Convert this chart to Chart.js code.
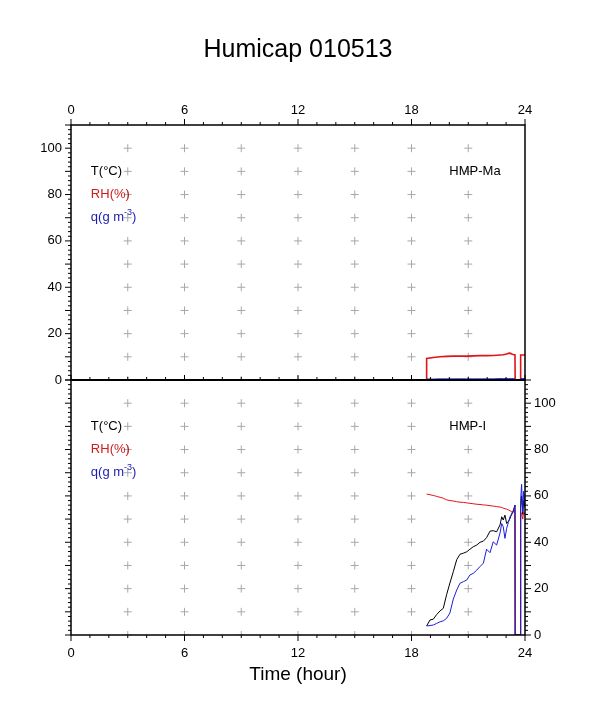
<!DOCTYPE html>
<html><head><meta charset="utf-8">
<script src="https://cdn.jsdelivr.net/npm/chart.js@4.4.0/dist/chart.umd.min.js"></script>
<style>
html,body{margin:0;padding:0;background:#fff;width:598px;height:708px;overflow:hidden}
canvas{position:absolute;left:0;top:0}
</style></head>
<body>
<canvas id="c1" width="598" height="708"></canvas>
<canvas id="c2" width="598" height="708"></canvas>
<script>
// ---------- text ----------
const titleText = 'Humicap 010513';
const xAxisTitle = 'Time (hour)';
const seriesNames = ['T(\u00B0C)', 'RH(%)', 'q(g m'];
const panelNames = ['HMP-Ma', 'HMP-I'];

// ---------- ticks ----------
const xTickValues = [0, 6, 12, 18, 24];
const yTickValues = [0, 20, 40, 60, 80, 100];
const crossHours = [3, 6, 9, 12, 15, 18, 21];
const crossLevels = [0, 10, 20, 30, 40, 50, 60, 70, 80, 90, 100];

// ---------- top panel (HMP-Ma) ----------
const hoursTop = [18.79, 18.80, 19.15, 19.51, 19.86, 20.21, 20.56, 20.92, 21.27, 21.62, 21.97, 22.32, 22.68, 22.85, 23.03, 23.12, 23.21, 23.30, 23.38, 23.47, 23.48, 23.76, 23.77, 24.00];
const rhTop    = [0, 9.3, 9.7, 10.0, 10.2, 10.3, 10.3, 10.3, 10.4, 10.5, 10.5, 10.6, 10.8, 10.9, 11.2, 11.5, 11.6, 11.2, 11.0, 10.8, 0, 0, 10.8, 10.8];
const qTop     = [0, 0.4, 0.4, 0.5, 0.5, 0.5, 0.5, 0.5, 0.5, 0.5, 0.5, 0.5, 0.6, 0.6, 0.6, 0.6, 0.6, 0.6, 0.6, 0.6, 0, 0, 0.6, 0.6];
const tTop     = [0, 0.1, 0.1, 0.1, 0.1, 0.1, 0.1, 0.1, 0.1, 0.1, 0.1, 0.1, 0.1, 0.1, 0.1, 0.1, 0.1, 0.1, 0.1, 0.1, 0, 0, 0.1, 0.1];

// ---------- bottom panel (HMP-I) ----------
const hoursBot = [18.80, 18.98, 19.15, 19.33, 19.51, 19.68, 19.86, 20.03, 20.21, 20.39, 20.56, 20.74, 20.92, 21.09, 21.27, 21.45, 21.62, 21.80, 21.97, 22.15, 22.32, 22.50, 22.68, 22.77, 22.85, 22.94, 23.03, 23.12, 23.21, 23.30, 23.38, 23.47, 23.48, 23.76, 23.77, 23.82, 23.88, 23.93, 24.00];
const tBot  = [3.9, 6.5, 6.8, 8.8, 10.4, 11.5, 17.5, 22.4, 27.3, 32.5, 34.8, 35.3, 35.9, 37.0, 38.1, 38.8, 40.0, 40.5, 42.0, 44.8, 45.0, 44.5, 47.5, 51.0, 49.6, 51.7, 48.1, 49.0, 50.3, 52.5, 53.5, 56.0, 0, 0, 55, 60, 52, 58, 55];
const rhBot = [60.8, 60.5, 60.2, 59.8, 59.4, 59.0, 58.3, 58.0, 57.8, 57.5, 57.3, 57.2, 57.0, 56.8, 56.6, 56.4, 56.3, 56.1, 56.0, 55.8, 55.6, 55.4, 55.2, 55.0, 54.7, 54.5, 54.3, 54.0, 53.6, 53.2, 53.6, 53.9, 0, 0, 53, 52, 50, 53, 52];
const qBot  = [3.9, 4.1, 4.3, 5.0, 5.7, 6.1, 7.2, 9.5, 15.5, 19.4, 22.3, 23.0, 23.7, 25.9, 26.6, 28.0, 29.5, 31.0, 37.0, 35.5, 40.2, 38.8, 44.0, 48.1, 46.7, 41.7, 46.0, 48.5, 51.0, 52.0, 53.0, 56.0, 0, 0, 58, 65, 53, 62, 57];

// ---------- colours ----------
const colT = '#000000', colRH = '#e01414', colQ = '#1c1ce0';
const txtRH = '#cc1c1c', txtQ = '#1a1ab8';
const FONT = '"Liberation Sans", Arial, Helvetica, sans-serif';

function pts(xs, ys) { return xs.map((x, i) => ({ x: x, y: ys[i] })); }
const crossPts = [];
crossHours.forEach(h => crossLevels.forEach(v => crossPts.push({ x: h, y: v })));

function seriesSets(h, t, rh, q, rhWidth) {
  return [
    { data: pts(h, q), borderColor: colQ, borderWidth: 1, pointRadius: 0, fill: false },
    { data: pts(h, rh), borderColor: colRH, borderWidth: rhWidth, pointRadius: 0, fill: false },
    { data: pts(h, t), borderColor: colT, borderWidth: 1, pointRadius: 0, fill: false },
    { data: crossPts, showLine: false, pointStyle: 'cross', pointRadius: 4, pointBorderColor: '#a8a8a8', pointBorderWidth: 1, pointBackgroundColor: '#a8a8a8' }
  ];
}

function drawLegendText(ctx, xs, ys, panelName) {
  ctx.font = '13px ' + FONT;
  ctx.textAlign = 'left';
  ctx.textBaseline = 'middle';
  const x0 = xs.getPixelForValue(1.05);
  ctx.fillStyle = '#000';
  ctx.fillText(seriesNames[0], x0, ys.getPixelForValue(90));
  ctx.fillStyle = txtRH;
  ctx.fillText(seriesNames[1], x0, ys.getPixelForValue(80));
  ctx.fillStyle = txtQ;
  const yq = ys.getPixelForValue(70);
  ctx.fillText(seriesNames[2], x0, yq);
  let w = ctx.measureText(seriesNames[2]).width;
  ctx.font = '9px ' + FONT;
  ctx.fillText('-3', x0 + w, yq - 5);
  const w2 = ctx.measureText('-3').width;
  ctx.font = '13px ' + FONT;
  ctx.fillText(')', x0 + w + w2, yq);
  ctx.fillStyle = '#000';
  ctx.fillText(panelName, xs.getPixelForValue(20.0), ys.getPixelForValue(90));
}

function vTicks(ctx, xs, yLine, dir, labels, labelOff) {
  for (let h = 0; h <= 24; h++) {
    const px = xs.getPixelForValue(h);
    const len = (h % 6 === 0) ? 6 : 3;
    ctx.beginPath(); ctx.moveTo(px, yLine); ctx.lineTo(px, yLine + dir * len); ctx.stroke();
  }
  if (labels) {
    ctx.font = '13px ' + FONT; ctx.fillStyle = '#000';
    ctx.textAlign = 'center'; ctx.textBaseline = 'middle';
    xTickValues.forEach(v => ctx.fillText(String(v), xs.getPixelForValue(v), yLine + dir * labelOff));
  }
}

function hTicks(ctx, ys, xLine, dir, labels) {
  for (let v = 0; v <= 110; v += 2) {
    const py = ys.getPixelForValue(v);
    const len = (v % 10 === 0) ? 6 : 3;
    ctx.beginPath(); ctx.moveTo(xLine, py); ctx.lineTo(xLine + dir * len, py); ctx.stroke();
  }
  if (labels) {
    ctx.font = '13px ' + FONT; ctx.fillStyle = '#000';
    ctx.textAlign = dir < 0 ? 'right' : 'left'; ctx.textBaseline = 'middle';
    yTickValues.forEach(v => ctx.fillText(String(v), xLine + dir * 9, ys.getPixelForValue(v)));
  }
}

const decorTop = {
  id: 'decorTop',
  afterDraw(chart) {
    const ctx = chart.ctx, xs = chart.scales.x, ys = chart.scales.y, a = chart.chartArea;
    ctx.save();
    ctx.strokeStyle = '#000'; ctx.lineWidth = 1;
    vTicks(ctx, xs, a.top, -1, true, 15);
    hTicks(ctx, ys, a.left, -1, true);
    for (let h = 0; h <= 24; h++) {
      const px = xs.getPixelForValue(h);
      ctx.beginPath(); ctx.moveTo(px, a.bottom); ctx.lineTo(px, a.bottom - ((h % 6 === 0) ? 5 : 3)); ctx.stroke();
    }
    ctx.lineWidth = 1.5;
    ctx.strokeRect(a.left, a.top, a.right - a.left, a.bottom - a.top);
    drawLegendText(ctx, xs, ys, panelNames[0]);
    ctx.font = '25px ' + FONT; ctx.fillStyle = '#000';
    ctx.textAlign = 'center'; ctx.textBaseline = 'middle';
    ctx.fillText(titleText, (a.left + a.right) / 2, 50);
    ctx.restore();
  }
};

const decorBot = {
  id: 'decorBot',
  afterDraw(chart) {
    const ctx = chart.ctx, xs = chart.scales.x, ys = chart.scales.y, a = chart.chartArea;
    ctx.save();
    ctx.strokeStyle = '#000'; ctx.lineWidth = 1;
    vTicks(ctx, xs, a.bottom, 1, true, 18);
    hTicks(ctx, ys, a.left, -1, false);
    hTicks(ctx, ys, a.right, 1, true);
    ctx.lineWidth = 1.5;
    ctx.strokeRect(a.left, a.top, a.right - a.left, a.bottom - a.top);
    ctx.beginPath(); ctx.moveTo(a.left, a.top); ctx.lineTo(a.right, a.top); ctx.lineWidth = 2; ctx.stroke();
    drawLegendText(ctx, xs, ys, panelNames[1]);
    ctx.font = '19px ' + FONT; ctx.fillStyle = '#000';
    ctx.textAlign = 'center'; ctx.textBaseline = 'middle';
    ctx.fillText(xAxisTitle, (a.left + a.right) / 2, 675);
    ctx.restore();
  }
};

function makeChart(id, pad, datasets, decor) {
  return new Chart(document.getElementById(id), {
    type: 'line',
    data: { datasets: datasets },
    options: {
      responsive: false, animation: false, events: [],
      devicePixelRatio: 1,
      layout: { padding: pad },
      plugins: { legend: { display: false }, tooltip: { enabled: false }, title: { display: false } },
      scales: {
        x: { type: 'linear', min: 0, max: 24, display: false },
        y: { type: 'linear', min: 0, max: 110, display: false }
      },
      elements: { line: { tension: 0 } }
    },
    plugins: [decor]
  });
}

makeChart('c1', { left: 71, right: 73, top: 125, bottom: 328 }, seriesSets(hoursTop, tTop, rhTop, qTop, 1.6), decorTop);
makeChart('c2', { left: 71, right: 73, top: 380, bottom: 73 }, seriesSets(hoursBot, tBot, rhBot, qBot, 1), decorBot);
</script>
</body></html>
